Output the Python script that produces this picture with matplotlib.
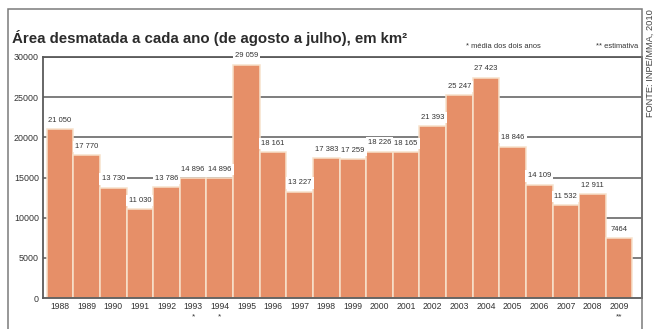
import matplotlib.pyplot as plt
from matplotlib.patches import Rectangle
import numpy as np

plt.rcParams['font.family'] = ['Liberation Sans', 'DejaVu Sans']

anos = ['1988', '1989', '1990', '1991', '1992', '1993', '1994', '1995',
        '1996', '1997', '1998', '1999', '2000', '2001', '2002', '2003',
        '2004', '2005', '2006', '2007', '2008', '2009']
area_km2 = [21050, 17770, 13730, 11030, 13786, 14896, 14896, 29059,
            18161, 13227, 17383, 17259, 18226, 18165, 21393, 25247,
            27423, 18846, 14109, 11532, 12911, 7464]
marcas = ['', '', '', '', '', '*', '*', '', '', '', '', '', '', '', '',
          '', '', '', '', '', '', '**']
yticks = [0, 5000, 10000, 15000, 20000, 25000, 30000]

grid_cor = '#5a5a5a'
barra_cor = '#e68f68'


def fmt(v):
    # separador de milhar com espaco, so acima de 9999
    if v >= 10000:
        return f"{v // 1000} {v % 1000:03d}"
    return str(v)


fig = plt.figure(figsize=(6.57, 3.29), dpi=100)
ax = fig.add_axes([43/657, 31/329, 599/657, 241/329])

x = np.arange(len(anos))
ax.bar(x, area_km2, width=1.0, color=barra_cor, edgecolor='#f7e2cc',
       linewidth=1.1, zorder=2)

for yv in yticks[1:]:
    ax.axhline(yv, color=grid_cor, lw=1.1, zorder=1)

for xi, v in zip(x, area_km2):
    ax.text(xi, v + 1100, fmt(v), ha='center', va='center', fontsize=5.5,
            color='#333333', zorder=3,
            bbox=dict(facecolor='white', edgecolor='none', pad=1.6))

ax.set_xlim(-0.64, 21.86)
ax.set_ylim(0, 30000)
ax.set_yticks(yticks)
ax.set_yticklabels([str(v) for v in yticks], fontsize=6.4, color='#333333')
ax.set_xticks(x)
ax.set_xticklabels(anos, fontsize=6.2, color='#333333')
ax.tick_params(length=0, pad=3)

for xi, m in zip(x, marcas):
    if m:
        ax.text(xi, -2350, m, ha='center', va='center', fontsize=6,
                color='#333333', clip_on=False)

for s in ['left', 'bottom', 'top', 'right']:
    ax.spines[s].set_color(grid_cor)
    ax.spines[s].set_linewidth(1.3)

# moldura externa
fig.patches.append(Rectangle((8/657, -0.05), 634/657, 1.05 - 9/329,
                             transform=fig.transFigure, fill=False,
                             edgecolor='#7a7a7a', lw=1.1))

fig.text(12/657, 1 - 38/329, 'Área desmatada a cada ano (de agosto a julho), em km²',
         fontsize=10.8, fontweight='bold', color='#2b2b2b', va='center')
fig.text(466/657, 1 - 46/329, '* média dos dois anos', fontsize=5.4,
         color='#333333', va='center')
fig.text(638/657, 1 - 46/329, '** estimativa', fontsize=5.4,
         color='#333333', va='center', ha='right')
fig.text(650/657, 1 - 63/329, 'FONTE: INPE/MMA, 2010', fontsize=6.7,
         color='#444444', rotation=90, ha='center', va='center')

fig.savefig('out.png', dpi=100)
